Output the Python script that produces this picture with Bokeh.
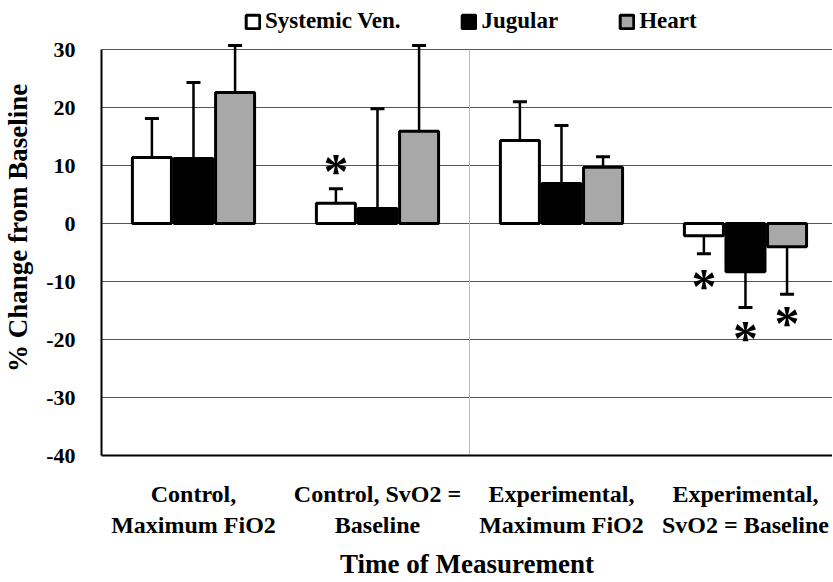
from bokeh.plotting import figure
from bokeh.models import Whisker, ColumnDataSource, FixedTicker, Legend, LegendItem, Range1d, TeeHead
from bokeh.core.properties import value
from bokeh.embed import file_html
from bokeh.resources import INLINE

categories = ["Control,\nMaximum FiO2", "Control, SvO2 =\nBaseline",
              "Experimental,\nMaximum FiO2", "Experimental,\nSvO2 = Baseline"]
series = ["Systemic Ven.", "Jugular", "Heart"]
systemic = [11.4, 3.5, 14.3, -2.1]
jugular = [11.2, 2.6, 6.9, -8.3]
heart = [22.6, 15.9, 9.7, -4.0]
systemic_err_end = [18.1, 6.0, 21.0, -5.2]
jugular_err_end = [24.3, 19.8, 16.9, -14.5]
heart_err_end = [30.7, 30.7, 11.5, -12.2]
# significance asterisks: category index, series index, y value
ast_cat = [1, 3, 3, 3]
ast_series = [0, 0, 1, 2]
ast_y = [9.8, -10.0, -19.1, -16.4]
y_ticks = [30, 20, 10, 0, -10, -20, -30, -40]

FONT = "Liberation Serif"
colors = ["white", "black", "#a8a8a8"]
offsets = [-0.226, 0.0, 0.226]
bar_w = 0.212
values = [systemic, jugular, heart]
err_ends = [systemic_err_end, jugular_err_end, heart_err_end]

y_lo, y_hi = min(y_ticks), max(y_ticks)
# extra headroom above the axis keeps the legend inside the drawable frame
p = figure(frame_width=731, frame_height=455, output_backend="svg", toolbar_location=None,
           x_range=Range1d(0, 3.973), y_range=Range1d(y_lo, y_hi + 8.45),
           min_border_left=94, min_border_top=0, min_border_bottom=100, min_border_right=0)
p.outline_line_color = None
p.background_fill_color = "white"

centers = [i + 0.5 for i in range(len(categories))]

# divider between control and experimental groups
mid = len(categories) / 2
p.segment(x0=[mid], y0=[y_lo], x1=[mid], y1=[y_hi], line_color="#bbbbbb", line_width=1)

items = []
for s in range(3):
    xs = [c + offsets[s] for c in centers]
    src = ColumnDataSource(dict(x=xs, top=values[s], err=err_ends[s]))
    r = p.vbar(x="x", top="top", bottom=0, width=bar_w, source=src,
               fill_color=colors[s], line_color="black", line_width=3)
    items.append(LegendItem(label=series[s], renderers=[r]))
    w = Whisker(base="x", lower="top", upper="err", source=src, dimension="height",
                line_color="black", line_width=2.5, lower_head=None,
                upper_head=TeeHead(size=14, line_width=3, line_color="black"))
    p.add_layout(w)

ax = [centers[c] + offsets[s] for c, s in zip(ast_cat, ast_series)]
p.text(x=ax, y=ast_y, text=["*"] * len(ax), text_font=value(FONT), text_font_style="bold",
       text_font_size="50px", text_align="center", text_baseline="middle", y_offset=4,
       text_color="black")

legend = Legend(items=items, orientation="horizontal", location=(143, 421),
                label_text_font=FONT, label_text_font_style="bold", label_text_font_size="23px",
                label_text_color="black",
                glyph_width=17, glyph_height=17, label_standoff=4, spacing=60,
                padding=0, margin=0, border_line_color=None, background_fill_alpha=0)
p.add_layout(legend, "center")

p.yaxis.ticker = FixedTicker(ticks=y_ticks)
p.yaxis.major_label_overrides = {t: str(t) for t in y_ticks}
p.yaxis.bounds = (y_lo, y_hi)
p.ygrid.ticker = FixedTicker(ticks=y_ticks)
p.ygrid.grid_line_color = "#555555"
p.ygrid.grid_line_width = 1
p.xaxis.ticker = FixedTicker(ticks=centers)
p.xaxis.major_label_overrides = {c: lab for c, lab in zip(centers, categories)}
p.xgrid.visible = False

for a in [p.xaxis[0], p.yaxis[0]]:
    a.major_tick_line_color = None
    a.minor_tick_line_color = None
    a.axis_line_color = "black"
    a.axis_line_width = 2
    a.major_label_text_font = FONT
    a.major_label_text_font_style = "bold"
    a.major_label_text_color = "black"
    a.axis_label_text_font = FONT
    a.axis_label_text_font_style = "bold"
    a.axis_label_text_color = "black"

p.yaxis.major_label_text_font_size = "22px"
p.yaxis.major_label_standoff = 20
p.yaxis.axis_label = "% Change from Baseline"
p.yaxis.axis_label_text_font_size = "27px"
p.yaxis.axis_label_standoff = 10

p.xaxis.major_label_text_font_size = "24px"
p.xaxis.major_label_standoff = 19
p.xaxis.axis_label = "Time of Measurement"
p.xaxis.axis_label_text_font_size = "27px"
p.xaxis.axis_label_standoff = 8

open("out.html", "w").write(file_html(p, INLINE))
